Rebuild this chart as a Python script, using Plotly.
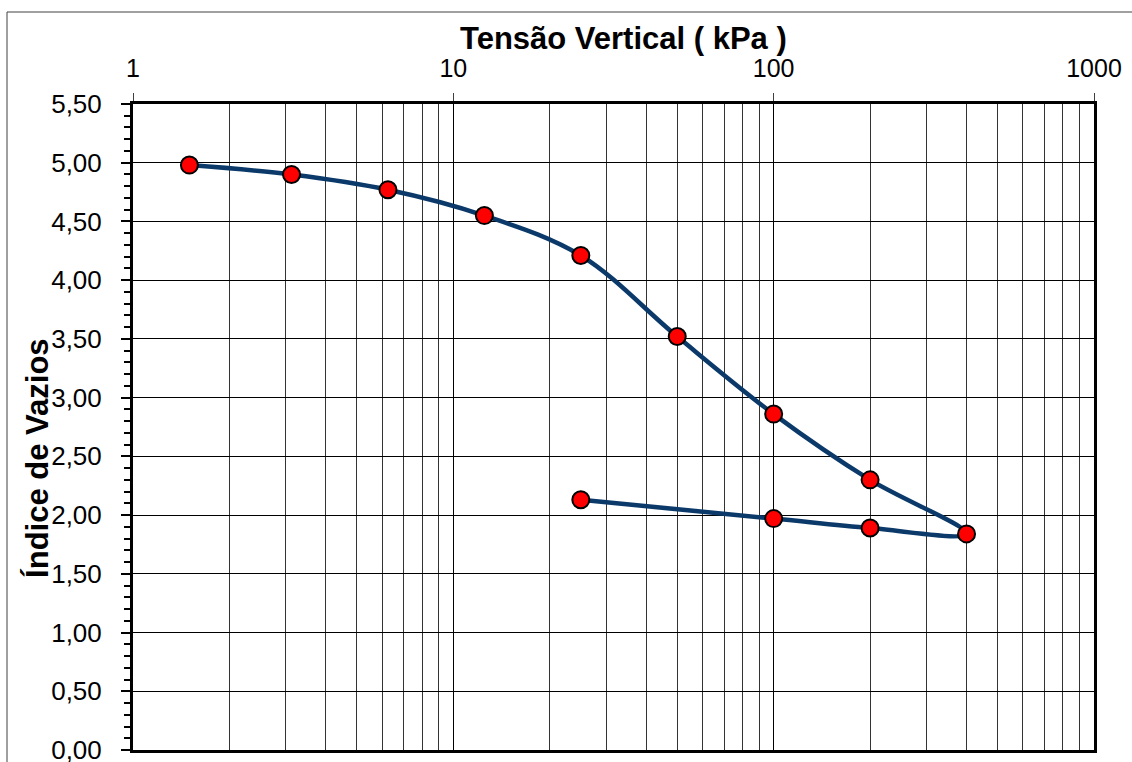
import plotly.graph_objects as go

# Ensaio de adensamento: carregamento até 400 kPa e descarregamento
tensao_kpa = [1.5, 3.125, 6.25, 12.5, 25, 50, 100, 200, 400, 200, 100, 25]
indice_vazios = [4.98, 4.90, 4.77, 4.55, 4.21, 3.52, 2.86, 2.30, 1.84, 1.89, 1.97, 2.13]

x_tickvals = [1, 10, 100, 1000]
x_ticktext = ["1", "10", "100", "1000"]

FONT = "Liberation Sans, Arial, sans-serif"

fig = go.Figure()
fig.add_trace(go.Scatter(
    x=tensao_kpa,
    y=indice_vazios,
    mode="lines+markers",
    line=dict(color="#0B3A6A", width=4.5, shape="spline", smoothing=1),
    marker=dict(color="#FF0000", size=17, line=dict(color="#000000", width=2)),
    showlegend=False,
    cliponaxis=False,
))

# moldura externa do gráfico
fig.add_shape(
    type="rect", xref="paper", yref="paper",
    x0=-0.1311, x1=1.2, y0=-0.2, y1=1.1424,
    line=dict(color="#404040", width=1), fillcolor="rgba(0,0,0,0)",
    layer="below",
)

# títulos dos eixos
fig.add_annotation(
    text="<b>Tensão Vertical ( kPa )</b>", xref="paper", yref="paper",
    x=0.5104, y=1.101, xanchor="center", yanchor="middle", showarrow=False,
    font=dict(size=31, family=FONT, color="#000000"),
)
fig.add_annotation(
    text="<b>Índice de Vazios</b>", xref="paper", yref="paper",
    x=-0.1, y=0.452, xanchor="center", yanchor="middle", showarrow=False,
    textangle=-90,
    font=dict(size=31, family=FONT, color="#000000"),
)

fig.update_layout(
    width=1132, height=762,
    margin=dict(l=133, r=38, t=104, b=12, autoexpand=False),
    paper_bgcolor="white", plot_bgcolor="white",
    separators=",.",
    font=dict(family=FONT, color="#000000"),
    xaxis=dict(
        type="log", range=[0, 3], side="top", automargin=False,
        tickvals=x_tickvals, ticktext=x_ticktext,
        ticks="outside", ticklen=8, tickwidth=1, tickcolor="#404040",
        ticklabelstandoff=6,
        tickfont=dict(size=25, family=FONT),
        showgrid=True, gridcolor="#000000", gridwidth=1,
        minor=dict(showgrid=True, gridcolor="#333333", gridwidth=1, dtick="D1", ticks=""),
        showline=True, linecolor="#000000", linewidth=3, mirror=True,
        zeroline=False,
    ),
    yaxis=dict(
        range=[0, 5.5], dtick=0.5, tick0=0, tickformat=".2f", automargin=False,
        ticks="outside", ticklen=9, tickwidth=1.5, tickcolor="#000000",
        ticklabelstandoff=14, ticklabeloverflow="allow",
        tickfont=dict(size=26, family=FONT),
        showgrid=True, gridcolor="#000000", gridwidth=1,
        minor=dict(dtick=0.1, ticks="outside", ticklen=6, tickwidth=1.5, tickcolor="#000000", showgrid=False),
        showline=True, linecolor="#000000", linewidth=3, mirror=True,
        zeroline=False,
    ),
)

fig.write_html("out.html")
